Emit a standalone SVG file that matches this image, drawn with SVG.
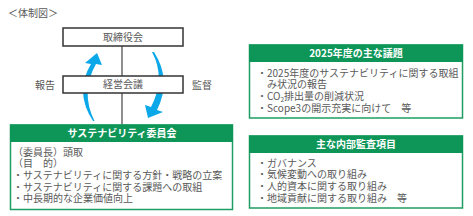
<svg xmlns="http://www.w3.org/2000/svg" width="473" height="216" viewBox="0 0 473 216">
<style>
.t{font-family:"Noto Sans CJK JP","Noto Sans",sans-serif;font-size:10px;fill:#595959}
.h{font-family:"Noto Sans CJK JP","Noto Sans",sans-serif;font-size:10px;font-weight:bold;fill:#fff}
.bx{fill:#fff;stroke:#333;stroke-width:1.5}
.gb{fill:#fff;stroke:#1e9e62;stroke-width:1.5}
.gh{fill:#0e9658}
.ar{fill:#0aa8e8}
</style>
<rect width="473" height="216" fill="#fff"/>
<text class="t" x="8" y="17">＜体制図＞</text>
<g id="connectors">
<line x1="122" y1="46" x2="122" y2="125" stroke="#444" stroke-width="1.2"/>
<path class="ar" d="M93,121 Q74,92 91,64 L85,63 L97,53 L102,65 L96,64 Q80,92 94.5,121 Z"/>
<path class="ar" d="M152,52 Q166,78 151,107 L145,105 L148,118 L163,112 L157,110 Q172,80 154,52 Z"/>
</g>
<g id="board">
<rect class="bx" x="63" y="28" width="120" height="18"/>
<text class="t" x="123" y="40.5" text-anchor="middle">取締役会</text>
</g>
<g id="management">
<rect class="bx" x="63" y="76" width="120" height="17"/>
<text class="t" x="123" y="88" text-anchor="middle">経営会議</text>
</g>
<g id="label-report"><text class="t" x="35" y="88.5">報告</text></g>
<g id="label-supervise"><text class="t" x="192" y="88.5">監督</text></g>
<g id="committee">
<rect class="gb" x="10.5" y="125" width="222" height="84.5"/>
<rect class="gh" x="10" y="124.5" width="223" height="17.5"/>
<text class="h" x="122" y="137" text-anchor="middle">サステナビリティ委員会</text>
<text class="t" x="13" y="155.5">（委員長）頭取</text>
<text class="t" x="13" y="167">（目　的）</text>
<text class="t" x="13" y="179">・サステナビリティに関する方針・戦略の立案</text>
<text class="t" x="13" y="190.5">・サステナビリティに関する課題への取組</text>
<text class="t" x="13" y="202">・中長期的な企業価値向上</text>
</g>
<g id="agenda">
<rect class="gb" x="249.5" y="45" width="213" height="73"/>
<rect class="gh" x="249" y="44.5" width="214" height="17.5"/>
<text class="h" x="356" y="57" text-anchor="middle">2025年度の主な議題</text>
<text class="t" x="257" y="76.5">・2025年度のサステナビリティに関する取組</text>
<text class="t" x="267" y="88">み状況の報告</text>
<text class="t" x="257" y="99.5">・CO<tspan font-size="6.5" dy="2">2</tspan><tspan dy="-2">排出量の削減状況</tspan></text>
<text class="t" x="257" y="111.5">・Scope3の開示充実に向けて　等</text>
</g>
<g id="audit">
<rect class="gb" x="249.5" y="136" width="213" height="72"/>
<rect class="gh" x="249" y="135.5" width="214" height="17.5"/>
<text class="h" x="356" y="148" text-anchor="middle">主な内部監査項目</text>
<text class="t" x="257" y="166.5">・ガバナンス</text>
<text class="t" x="257" y="178">・気候変動への取り組み</text>
<text class="t" x="257" y="189.5">・人的資本に関する取り組み</text>
<text class="t" x="257" y="201.5">・地域貢献に関する取り組み　等</text>
</g>
</svg>
